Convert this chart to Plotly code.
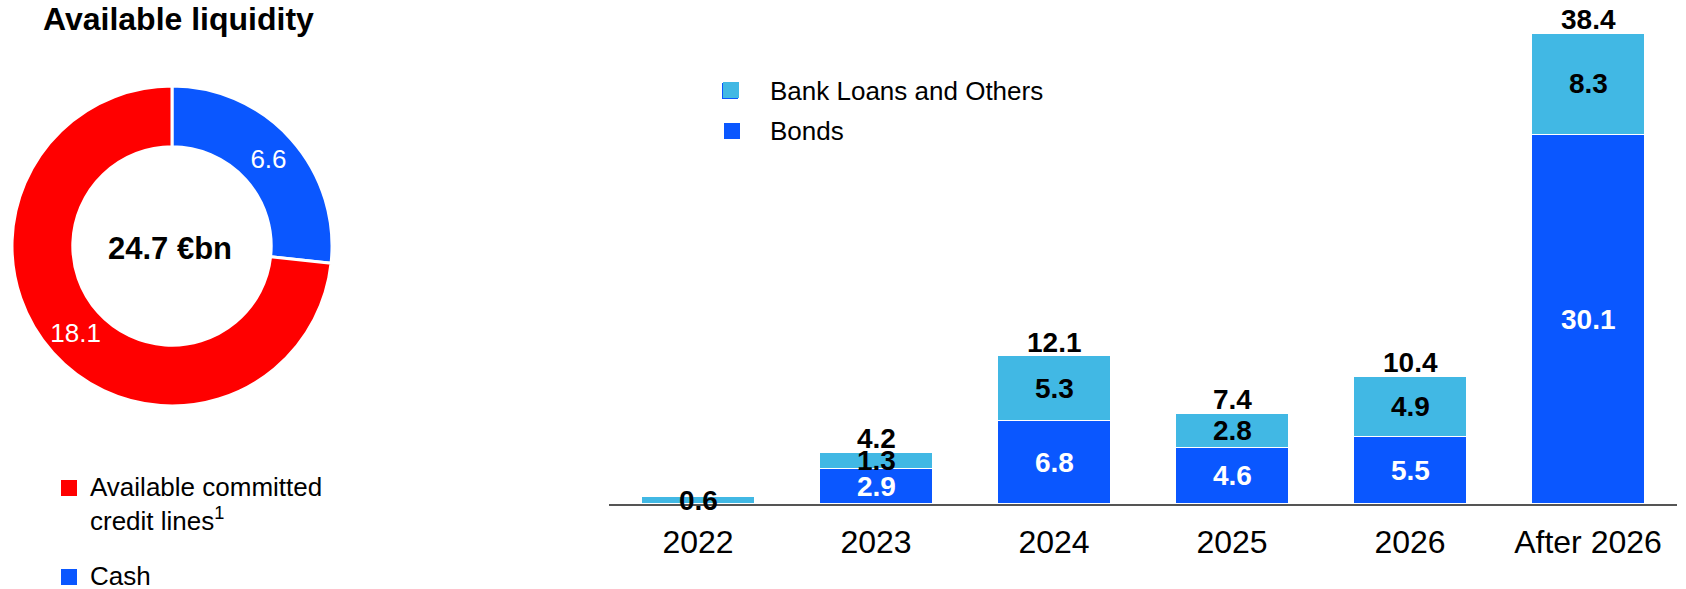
import plotly.graph_objects as go

W, H = 1686, 589
FONT = "Liberation Sans, Arial, sans-serif"

# Available liquidity (€bn)
liquidity_labels = ["Cash", "Available committed credit lines"]
liquidity_values = [6.6, 18.1]

# Debt maturity profile (€bn)
years = ["2022", "2023", "2024", "2025", "2026", "After 2026"]
bonds = [0.0, 2.9, 6.8, 4.6, 5.5, 30.1]
bank_loans = [0.6, 1.3, 5.3, 2.8, 4.9, 8.3]

BLUE = "#0A57FF"
LIGHT_BLUE = "#41B8E4"
RED = "#FF0000"


def px(x):
    return x / W


def py(y):
    return 1 - y / H


fig = go.Figure()

# --- stacked bars ------------------------------------------------------
fig.add_trace(go.Bar(
    x=years, y=bonds, name="Bonds",
    marker=dict(color=BLUE, line=dict(color="white", width=1.5)),
    showlegend=False, hoverinfo="skip",
))
fig.add_trace(go.Bar(
    x=years, y=bank_loans, name="Bank Loans and Others",
    marker=dict(color=LIGHT_BLUE, line=dict(color="white", width=1.5)),
    showlegend=False, hoverinfo="skip",
))

# --- donut -------------------------------------------------------------
fig.add_trace(go.Pie(
    labels=liquidity_labels,
    values=liquidity_values,
    hole=0.62,
    sort=False,
    direction="clockwise",
    rotation=0,
    marker=dict(colors=[BLUE, RED], line=dict(color="white", width=3)),
    texttemplate="%{value:.1f}",
    textposition="inside",
    insidetextorientation="horizontal",
    textfont=dict(color="white", size=26, family=FONT),
    domain=dict(x=[px(12), px(332)], y=[py(406), py(86)]),
    showlegend=False,
    hoverinfo="skip",
))

annotations = []
shapes = []

totals = [round(b + l, 1) for b, l in zip(bonds, bank_loans)]
for i, (b, l, t) in enumerate(zip(bonds, bank_loans, totals)):
    if t >= 1:
        annotations.append(dict(
            x=i, y=b / 2, xref="x", yref="y", text=f"<b>{b:.1f}</b>",
            showarrow=False, font=dict(size=28, color="white", family=FONT)))
        annotations.append(dict(
            x=i, y=b + l / 2, xref="x", yref="y", text=f"<b>{l:.1f}</b>",
            showarrow=False, font=dict(size=28, color="black", family=FONT)))
        annotations.append(dict(
            x=i, y=t, xref="x", yref="y", text=f"<b>{t:.1f}</b>",
            yanchor="bottom", yshift=-4, showarrow=False,
            font=dict(size=28, color="black", family=FONT)))
    else:
        # a sliver of a bar: its total sits right on top of it
        annotations.append(dict(
            x=i, y=t, xref="x", yref="y", text=f"<b>{t:.1f}</b>",
            yanchor="middle", yshift=-4, showarrow=False,
            font=dict(size=28, color="black", family=FONT)))

# donut centre total
annotations.append(dict(
    x=px(170), y=py(248), xref="paper", yref="paper",
    xanchor="center", yanchor="middle",
    text=f"<b>{sum(liquidity_values):.1f} €bn</b>", showarrow=False,
    font=dict(size=31, color="black", family=FONT)))

# title
annotations.append(dict(
    x=px(41), y=py(19), xref="paper", yref="paper",
    xanchor="left", yanchor="middle",
    text="<b>Available liquidity</b>", showarrow=False,
    font=dict(size=32, color="black", family=FONT)))


def legend_item(x0, y0, size, color, label_x, label_y, text):
    shapes.append(dict(type="rect", xref="paper", yref="paper",
                       x0=px(x0), x1=px(x0 + size), y0=py(y0 + size), y1=py(y0),
                       fillcolor=color, line=dict(width=0)))
    annotations.append(dict(x=px(label_x), y=py(label_y), xref="paper", yref="paper",
                            xanchor="left", yanchor="middle", text=text, showarrow=False,
                            font=dict(size=26, color="black", family=FONT)))


# donut legend
legend_item(61, 480, 16, RED, 88, 487, "Available committed")
annotations.append(dict(x=px(88), y=py(519), xref="paper", yref="paper",
                        xanchor="left", yanchor="middle", text="credit lines<sup>1</sup>",
                        showarrow=False, font=dict(size=26, color="black", family=FONT)))
legend_item(61, 569, 16, BLUE, 88, 576, "Cash")

# bar legend (light marker sits on a slightly offset darker square)
shapes.append(dict(type="rect", xref="paper", yref="paper",
                   x0=px(722), x1=px(738), y0=py(99), y1=py(83),
                   fillcolor=BLUE, line=dict(width=0)))
legend_item(723, 82, 16, LIGHT_BLUE, 768, 91, "Bank Loans and Others")
legend_item(724, 123, 16, BLUE, 768, 131, "Bonds")

Y_SCALE = 12.27  # pixels per €bn
fig.update_layout(
    width=W, height=H,
    margin=dict(l=0, r=0, t=0, b=0),
    paper_bgcolor="white", plot_bgcolor="white",
    barmode="stack", bargap=0.36,
    font=dict(family=FONT, color="black"),
    xaxis=dict(type="category", categoryorder="array", categoryarray=years,
               range=[-0.5, len(years) - 0.5],
               domain=[px(609), px(1677)], showline=True,
               linecolor="#555555", linewidth=2, showgrid=False, zeroline=False,
               ticks="outside", ticklen=9, tickcolor="rgba(0,0,0,0)",
               tickfont=dict(size=32, color="black", family=FONT)),
    yaxis=dict(domain=[py(504), 1], range=[0, 504 / Y_SCALE], visible=False,
               showgrid=False, zeroline=False),
    annotations=annotations,
    shapes=shapes,
)

fig.write_html("out.html")
